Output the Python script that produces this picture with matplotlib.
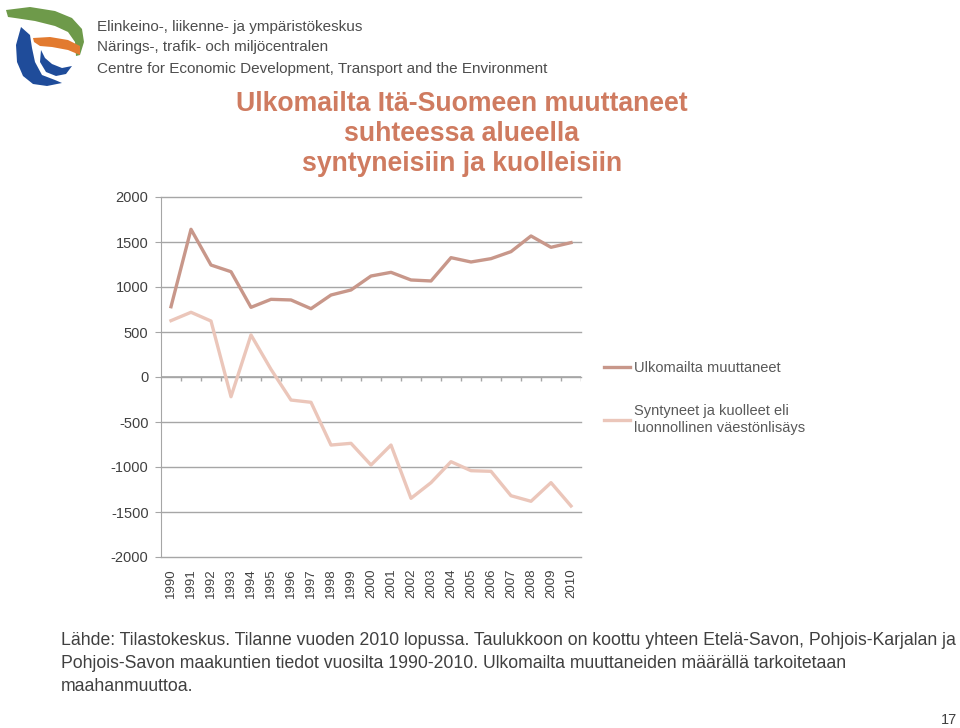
import matplotlib
matplotlib.use("Agg")
import matplotlib.pyplot as plt
from matplotlib.patches import Polygon

plt.rcParams['font.family'] = ['Liberation Sans', 'DejaVu Sans']

# data
years = [str(y) for y in range(1990, 2011)]
ulkomailta = [781, 1641, 1244, 1170, 774, 863, 856, 759, 911, 967, 1122,
              1163, 1078, 1067, 1326, 1278, 1315, 1393, 1567, 1441, 1493]
luonnollinen = [626, 719, 622, -219, 467, 85, -256, -281, -756, -737, -978,
                -756, -1348, -1174, -941, -1041, -1048, -1319, -1381, -1174, -1433]
series_names = ['Ulkomailta muuttaneet',
                'Syntyneet ja kuolleet eli\nluonnollinen väestönlisäys']
yticks = list(range(-2000, 2001, 500))

dark = '#c8978a'
light = '#ebc6ba'
grid_c = '#a6a6a6'
txt = '#595959'

fig = plt.figure(figsize=(9.6, 7.28), dpi=100)

# logo (rough shapes)
lg = fig.add_axes([0.0, 1 - 95 / 728, 100 / 960, 95 / 728])
lg.set_xlim(0, 100)
lg.set_ylim(95, 0)
lg.axis('off')
green = [(6, 10), (30, 7), (55, 11), (72, 18), (82, 29), (84, 42), (80, 55), (76, 56),
         (75, 42), (68, 32), (55, 26), (35, 21), (15, 18), (8, 17)]
orange = [(33, 38), (50, 37), (68, 40), (80, 46), (80, 55), (68, 50), (52, 47), (40, 46), (34, 42)]
blue1 = [(21, 27), (16, 45), (17, 62), (23, 76), (33, 84), (47, 86), (62, 83), (55, 80),
         (42, 75), (35, 62), (32, 48), (30, 35)]
blue2 = [(41, 50), (40, 62), (46, 72), (56, 76), (66, 74), (72, 66), (62, 68), (52, 64), (45, 58)]
lg.add_patch(Polygon(green, closed=True, color='#6e9a4a', lw=0))
lg.add_patch(Polygon(orange, closed=True, color='#e27a2f', lw=0))
lg.add_patch(Polygon(blue1, closed=True, color='#1f4c9a', lw=0))
lg.add_patch(Polygon(blue2, closed=True, color='#1f4c9a', lw=0))

header = ['Elinkeino-, liikenne- ja ympäristökeskus',
          'Närings-, trafik- och miljöcentralen',
          'Centre for Economic Development, Transport and the Environment']
for ypix, line in zip([27, 47, 69], header):
    fig.text(97 / 960, 1 - ypix / 728, line, fontsize=11, color='#4d4d4d', va='center')

fig.text(462 / 960, 1 - 134 / 728,
         'Ulkomailta Itä-Suomeen muuttaneet\nsuhteessa alueella\nsyntyneisiin ja kuolleisiin',
         fontsize=19.2, fontweight='bold', color='#cf7b60', ha='center', va='center',
         linespacing=1.22)

ax = fig.add_axes([161 / 960, 1 - 557 / 728, 420 / 960, 360 / 728])
x = list(range(len(years)))
ax.plot(x, ulkomailta, color=dark, lw=2.4, label=series_names[0], zorder=3)
ax.plot(x, luonnollinen, color=light, lw=2.4, label=series_names[1], zorder=3)

ax.set_xlim(-0.5, len(years) - 0.5)
ax.set_ylim(-2000, 2000)
ax.set_yticks(yticks)
ax.set_yticklabels([str(v) for v in yticks], fontsize=10.5, color='#404040')
for v in yticks:
    ax.axhline(v, color=grid_c, lw=1, zorder=1, clip_on=False)
ax.tick_params(axis='y', length=4, color=grid_c, pad=5)

# category axis crossing at zero with ticks between categories
ax.axhline(0, color=grid_c, lw=1.2, zorder=2)
ax.vlines([i + 0.5 for i in range(len(years))], -45, 0, color=grid_c, lw=1, zorder=2)

ax.set_xticks(x)
ax.set_xticklabels(years, rotation=90, fontsize=9.5, color='#404040')
ax.tick_params(axis='x', length=0, pad=8)

for s in ['top', 'right', 'bottom']:
    ax.spines[s].set_visible(False)
ax.spines['left'].set_color(grid_c)

leg = ax.legend(loc='upper left', bbox_to_anchor=(1.04, 0.56), frameon=False,
                fontsize=10.5, labelcolor=txt, handlelength=1.8, handletextpad=0.3,
                labelspacing=2.0, borderaxespad=0)
for t in leg.get_texts():
    t.set_linespacing(1.2)

foot = ('Lähde: Tilastokeskus. Tilanne vuoden 2010 lopussa. Taulukkoon on koottu yhteen Etelä-Savon, Pohjois-Karjalan ja\n'
        'Pohjois-Savon maakuntien tiedot vuosilta 1990-2010. Ulkomailta muuttaneiden määrällä tarkoitetaan\n'
        'maahanmuuttoa.')
fig.text(61 / 960, 1 - 632 / 728, foot, fontsize=12.7, color='#404040', va='top', linespacing=1.45)
fig.text(957 / 960, 1 - 720 / 728, '17', fontsize=10.5, color='#404040', ha='right', va='center')

fig.savefig('out.png', dpi=100)
